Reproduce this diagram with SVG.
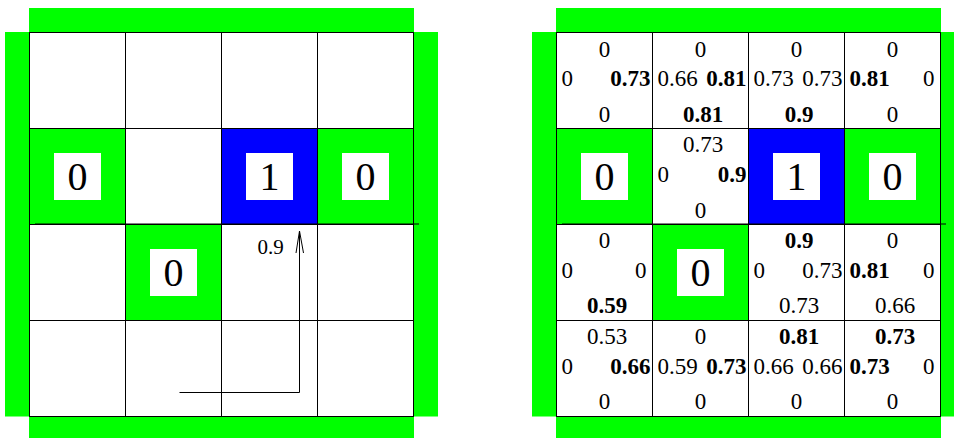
<svg xmlns="http://www.w3.org/2000/svg" width="954" height="438" viewBox="0 0 954 438">
<style>
.wall{fill:#00ff00}
.cell{fill:#ffffff;stroke:#000;stroke-width:1}
.gcell{fill:#00ff00;stroke:#000;stroke-width:1}
.goal{fill:#0000ff;stroke:#000;stroke-width:1}
.box{fill:#ffffff}
.big{font-family:"Liberation Serif","Times New Roman",serif;font-size:40px;text-anchor:middle;fill:#000}
.v{font-family:"Liberation Serif","Times New Roman",serif;font-size:23px;fill:#000}
.b{font-weight:bold}
.m{text-anchor:middle}
.e{text-anchor:end}
.ln{stroke:#000;stroke-width:1;fill:none}
</style>
<rect width="954" height="438" fill="#fff"/>
<!-- LEFT GRID -->
<g id="left-walls">
<rect class="wall" x="29" y="8" width="385" height="24.5"/>
<rect class="wall" x="5" y="32" width="24.5" height="384.5"/>
<rect class="wall" x="413.5" y="32" width="24.5" height="384.5"/>
<rect class="wall" x="29" y="416.5" width="385" height="21.5"/>
</g>
<g id="L-r0c0"><rect class="cell" x="29.5" y="32.5" width="96" height="96"/></g>
<g id="L-r0c1"><rect class="cell" x="125.5" y="32.5" width="96" height="96"/></g>
<g id="L-r0c2"><rect class="cell" x="221.5" y="32.5" width="96" height="96"/></g>
<g id="L-r0c3"><rect class="cell" x="317.5" y="32.5" width="96" height="96"/></g>
<g id="L-r1c0"><rect class="gcell" x="29.5" y="128.5" width="96" height="96"/><rect class="box" x="54" y="153" width="47" height="47"/><text class="big" x="77.5" y="190">0</text></g>
<g id="L-r1c1"><rect class="cell" x="125.5" y="128.5" width="96" height="96"/></g>
<g id="L-r1c2"><rect class="goal" x="221.5" y="128.5" width="96" height="96"/><rect class="box" x="246" y="153" width="47" height="47"/><text class="big" x="269.5" y="190">1</text></g>
<g id="L-r1c3"><rect class="gcell" x="317.5" y="128.5" width="96" height="96"/><rect class="box" x="342" y="153" width="47" height="47"/><text class="big" x="365.5" y="190">0</text></g>
<g id="L-r2c0"><rect class="cell" x="29.5" y="224.5" width="96" height="96"/></g>
<g id="L-r2c1"><rect class="gcell" x="125.5" y="224.5" width="96" height="96"/><rect class="box" x="150" y="249" width="47" height="47"/><text class="big" x="173.5" y="286">0</text></g>
<g id="L-r2c2"><rect class="cell" x="221.5" y="224.5" width="96" height="96"/></g>
<g id="L-r2c3"><rect class="cell" x="317.5" y="224.5" width="96" height="96"/></g>
<g id="L-r3c0"><rect class="cell" x="29.5" y="320.5" width="96" height="96"/></g>
<g id="L-r3c1"><rect class="cell" x="125.5" y="320.5" width="96" height="96"/></g>
<g id="L-r3c2"><rect class="cell" x="221.5" y="320.5" width="96" height="96"/></g>
<g id="L-r3c3"><rect class="cell" x="317.5" y="320.5" width="96" height="96"/></g>
<line class="ln" x1="35" y1="224" x2="419" y2="224"/>
<g id="connectors">
<polyline class="ln" points="179.5,392.5 299.5,392.5 299.5,231.5"/>
<polyline class="ln" points="296,253 299.5,231 303.5,253"/>
<text class="v" style="font-size:21px" x="257.5" y="254">0.9</text>
</g>
<!-- RIGHT GRID -->
<g id="right-walls">
<rect class="wall" x="556" y="8" width="385" height="24.5"/>
<rect class="wall" x="532" y="32" width="24.5" height="384.5"/>
<rect class="wall" x="940.5" y="32" width="24" height="384.5"/>
<rect class="wall" x="556" y="416.5" width="385" height="21.5"/>
</g>
<g id="R-r0c0"><rect class="cell" x="556.5" y="32.5" width="96" height="96"/>
<text class="v m" x="604.5" y="56.5">0</text><text class="v" x="561.5" y="86">0</text><text class="v e b" x="650.5" y="86">0.73</text><text class="v m" x="604.5" y="121.5">0</text></g>
<g id="R-r0c1"><rect class="cell" x="652.5" y="32.5" width="96" height="96"/>
<text class="v m" x="700.5" y="56.5">0</text><text class="v" x="657.5" y="86">0.66</text><text class="v e b" x="746.5" y="86">0.81</text><text class="v m b" x="703" y="121.5">0.81</text></g>
<g id="R-r0c2"><rect class="cell" x="748.5" y="32.5" width="96" height="96"/>
<text class="v m" x="796.5" y="56.5">0</text><text class="v" x="753.5" y="86">0.73</text><text class="v e" x="842.5" y="86">0.73</text><text class="v m b" x="799" y="121.5">0.9</text></g>
<g id="R-r0c3"><rect class="cell" x="844.5" y="32.5" width="96" height="96"/>
<text class="v m" x="892.5" y="56.5">0</text><text class="v b" x="849.5" y="86">0.81</text><text class="v e" x="934.5" y="86">0</text><text class="v m" x="892.5" y="121.5">0</text></g>
<g id="R-r1c0"><rect class="gcell" x="556.5" y="128.5" width="96" height="96"/><rect class="box" x="581" y="153" width="47" height="47"/><text class="big" x="604.5" y="190">0</text></g>
<g id="R-r1c1"><rect class="cell" x="652.5" y="128.5" width="96" height="96"/>
<text class="v m" x="703" y="152">0.73</text><text class="v" x="657.5" y="182">0</text><text class="v e b" x="746.5" y="182">0.9</text><text class="v m" x="700.5" y="217.5">0</text></g>
<g id="R-r1c2"><rect class="goal" x="748.5" y="128.5" width="96" height="96"/><rect class="box" x="773" y="153" width="47" height="47"/><text class="big" x="796.5" y="190">1</text></g>
<g id="R-r1c3"><rect class="gcell" x="844.5" y="128.5" width="96" height="96"/><rect class="box" x="869" y="153" width="47" height="47"/><text class="big" x="892.5" y="190">0</text></g>
<g id="R-r2c0"><rect class="cell" x="556.5" y="224.5" width="96" height="96"/>
<text class="v m" x="604.5" y="248">0</text><text class="v" x="561.5" y="278">0</text><text class="v e" x="646.5" y="278">0</text><text class="v m b" x="607" y="313">0.59</text></g>
<g id="R-r2c1"><rect class="gcell" x="652.5" y="224.5" width="96" height="96"/><rect class="box" x="677" y="249" width="47" height="47"/><text class="big" x="700.5" y="286">0</text></g>
<g id="R-r2c2"><rect class="cell" x="748.5" y="224.5" width="96" height="96"/>
<text class="v m b" x="799" y="248">0.9</text><text class="v" x="753.5" y="278">0</text><text class="v e" x="842.5" y="278">0.73</text><text class="v m" x="799" y="313">0.73</text></g>
<g id="R-r2c3"><rect class="cell" x="844.5" y="224.5" width="96" height="96"/>
<text class="v m" x="892.5" y="248">0</text><text class="v b" x="849.5" y="278">0.81</text><text class="v e" x="934.5" y="278">0</text><text class="v m" x="895" y="313">0.66</text></g>
<g id="R-r3c0"><rect class="cell" x="556.5" y="320.5" width="96" height="96"/>
<text class="v m" x="607" y="343.5">0.53</text><text class="v" x="561.5" y="373.5">0</text><text class="v e b" x="650.5" y="373.5">0.66</text><text class="v m" x="604.5" y="409">0</text></g>
<g id="R-r3c1"><rect class="cell" x="652.5" y="320.5" width="96" height="96"/>
<text class="v m" x="700.5" y="343.5">0</text><text class="v" x="657.5" y="373.5">0.59</text><text class="v e b" x="746.5" y="373.5">0.73</text><text class="v m" x="700.5" y="409">0</text></g>
<g id="R-r3c2"><rect class="cell" x="748.5" y="320.5" width="96" height="96"/>
<text class="v m b" x="799" y="343.5">0.81</text><text class="v" x="753.5" y="373.5">0.66</text><text class="v e" x="842.5" y="373.5">0.66</text><text class="v m" x="796.5" y="409">0</text></g>
<g id="R-r3c3"><rect class="cell" x="844.5" y="320.5" width="96" height="96"/>
<text class="v m b" x="895" y="343.5">0.73</text><text class="v b" x="849.5" y="373.5">0.73</text><text class="v e" x="934.5" y="373.5">0</text><text class="v m" x="892.5" y="409">0</text></g>
<line class="ln" x1="562" y1="224" x2="946" y2="224"/>
</svg>
